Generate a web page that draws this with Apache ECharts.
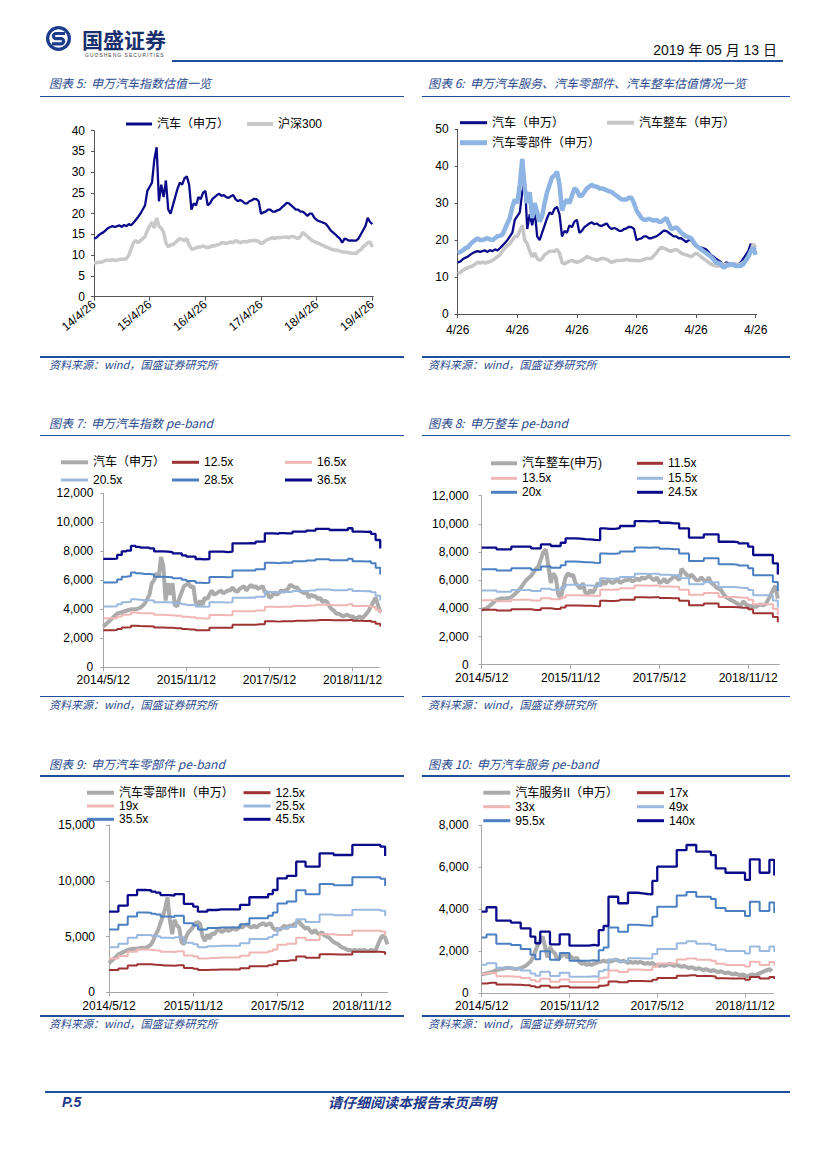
<!DOCTYPE html>
<html><head><meta charset="utf-8">
<script src="https://cdn.jsdelivr.net/npm/echarts@6/dist/echarts.min.js"></script>
<style>
body{margin:0;background:#fff;}
#page{position:relative;width:827px;height:1170px;overflow:hidden;background:#fff;font-family:"Liberation Sans","Noto Sans CJK SC",sans-serif;}
.ch{position:absolute;left:0;top:0;width:827px;height:1170px;pointer-events:none;}
.t{position:absolute;white-space:nowrap;z-index:5;}
.hl{position:absolute;background:#1f4e9e;z-index:5;}
.ttl{position:absolute;white-space:nowrap;font-style:italic;font-size:12px;line-height:14px;color:#2a4a8f;z-index:5;font-family:"Noto Sans CJK SC","Liberation Sans",sans-serif;}
.src{position:absolute;white-space:nowrap;font-style:italic;font-size:11px;line-height:14px;color:#2a4a8f;z-index:5;font-family:"Noto Sans CJK SC","Liberation Sans",sans-serif;}
</style></head>
<body><div id="page">
<div id="c5" class="ch"></div><div id="c6" class="ch"></div>
<div id="c7" class="ch"></div><div id="c8" class="ch"></div>
<div id="c9" class="ch"></div><div id="c10" class="ch"></div>

<svg class="t" style="left:44px;top:24px" width="30" height="30" viewBox="44 24 30 30">
<circle cx="58.5" cy="38.5" r="12.5" fill="#1d3c8c"/>
<circle cx="58.5" cy="38.5" r="9.2" fill="#fff"/>
<path d="M65,33.5 H56 a2.6,2.6 0 0 0 0,5.2 H61 a2.6,2.6 0 0 1 0,5.2 H52" stroke="#1d3c8c" stroke-width="3.2" fill="none"/>
</svg>
<div class="t" style="left:82px;top:27px;font-size:21px;font-weight:bold;color:#1a2f6e;line-height:24px;font-family:'Noto Sans CJK SC',sans-serif;">国盛证券</div>
<div class="t" style="left:85px;top:53px;font-size:5px;letter-spacing:1px;color:#444;line-height:5px;">GUOSHENG SECURITIES</div>
<div class="hl" style="left:172px;top:59.5px;width:611px;height:2px;"></div>
<div class="t" style="right:50px;top:41px;font-size:14px;line-height:18px;color:#111;font-family:'Liberation Sans','Noto Sans CJK SC',sans-serif;">2019 年 05 月 13 日</div>

<div class="ttl" style="left:49px;top:76px;">图表 5:&nbsp; 申万汽车指数估值一览</div>
<div class="ttl" style="left:428px;top:76px;">图表 6:&nbsp; 申万汽车服务、汽车零部件、汽车整车估值情况一览</div>
<div class="hl" style="left:40px;top:95.5px;width:364px;height:1.5px;"></div>
<div class="hl" style="left:422px;top:95.5px;width:368px;height:1.5px;"></div>
<div class="hl" style="left:40px;top:356px;width:364px;height:1.5px;"></div>
<div class="hl" style="left:422px;top:356px;width:368px;height:1.5px;"></div>
<div class="src" style="left:49px;top:356.5px;">资料来源：wind，国盛证券研究所</div>
<div class="src" style="left:428px;top:356.5px;">资料来源：wind，国盛证券研究所</div>

<div class="ttl" style="left:49px;top:416px;">图表 7:&nbsp; 申万汽车指数 pe-band</div>
<div class="ttl" style="left:428px;top:416px;">图表 8:&nbsp; 申万整车 pe-band</div>
<div class="hl" style="left:40px;top:434.5px;width:364px;height:1.5px;"></div>
<div class="hl" style="left:422px;top:434.5px;width:368px;height:1.5px;"></div>
<div class="hl" style="left:40px;top:695.5px;width:364px;height:1.5px;"></div>
<div class="hl" style="left:422px;top:695.5px;width:368px;height:1.5px;"></div>
<div class="src" style="left:49px;top:696.5px;">资料来源：wind，国盛证券研究所</div>
<div class="src" style="left:428px;top:696.5px;">资料来源：wind，国盛证券研究所</div>

<div class="ttl" style="left:49px;top:757px;">图表 9:&nbsp; 申万汽车零部件 pe-band</div>
<div class="ttl" style="left:428px;top:757px;">图表 10:&nbsp; 申万汽车服务 pe-band</div>
<div class="hl" style="left:40px;top:775px;width:364px;height:1.5px;"></div>
<div class="hl" style="left:422px;top:775px;width:368px;height:1.5px;"></div>
<div class="hl" style="left:40px;top:1015px;width:364px;height:1.5px;"></div>
<div class="hl" style="left:422px;top:1015px;width:368px;height:1.5px;"></div>
<div class="src" style="left:49px;top:1016px;">资料来源：wind，国盛证券研究所</div>
<div class="src" style="left:428px;top:1016px;">资料来源：wind，国盛证券研究所</div>

<div class="hl" style="left:45px;top:1090.5px;width:745px;height:2.5px;"></div>
<div class="t" style="left:62px;top:1094px;font-size:14px;line-height:16px;font-weight:bold;font-style:italic;color:#1f3a8a;">P.5</div>
<div class="t" style="left:328px;top:1094px;font-size:14px;line-height:16px;font-weight:bold;font-style:italic;color:#1f3a8a;font-family:'Noto Sans CJK SC',sans-serif;">请仔细阅读本报告末页声明</div>
</div>
<script>
// ---------- tick labels ----------
const idxTickMonths = [0, 12, 24, 36, 48, 60];
const idxTickLabels5 = ['14/4/26', '15/4/26', '16/4/26', '17/4/26', '18/4/26', '19/4/26'];
const idxTickLabels6 = ['4/26', '4/26', '4/26', '4/26', '4/26', '4/26'];
const peTickMonths = [0, 18, 36, 54];
const peTickLabels = ['2014/5/12', '2015/11/12', '2017/5/12', '2018/11/12'];

// ---------- chart 5 / 6 (semi-monthly PE) ----------
const autoSW = [14,14.2,14.8,15.2,15.5,16,16.5,16.8,17,16.8, 17,17.2,16.8,17.3,17,17.5,17.2,17.8,18.5,19.2, 20,21,22,25.5,26.5,27.5,33,36,23,27, 24,28,21,20,22,24,26,27.5,27,28.5, 29,27,21,22.5,22,24,23.5,25,25.5,22, 22.5,23.5,24,24.5,24.8,24.3,24.5,24,23.8,24.2, 24.5,23.5,23,23.3,23,22.5,22.5,23,23.2,23.6, 23.5,23,20,20.3,20.5,21,21,20.5,20.5,20.8, 21,21.5,22,22.6,22.5,22,21.5,21,21,20.5, 20.5,20,19.5,20,20,19,18.5,18.2,18,17.8, 17.5,16.8,16,15.5,15,14.5,14,13,14,13.8, 13.5,13.6,13.5,13.5,14,15,16,17,19,18, 17.5];
const hs300 = [8.2,8.2,8.3,8.3,8.5,8.8,8.8,8.8,8.9,8.8, 8.8,9,9,9,9.2,10,11.5,13,13.5,13, 13.5,14,14.5,16,17,18,16.5,19,17,16.5, 15.5,13,12,12.5,12.5,13,13.5,14,13.8,13.5, 14,12.5,11.5,11.5,11.8,12,12,12.2,12,11.8, 12,12.3,12.2,12.5,12.6,13,13,12.8,13,13.2, 13,13.5,13.3,13,13.2,13.3,13.2,13.5,13.5,13.6, 13.5,13.3,12.8,13,13.5,13.8,14,14.2,14,14.3, 14.2,14.3,14.3,14.4,14.2,14.5,14.5,14.2,14,14.5, 15.5,15,14.5,14,13.5,13.3,13,12.8,12.5,12.3, 12,11.8,11.5,11.3,11.2,11.2,11,10.8,10.8,10.7, 10.6,10.5,10.5,10.4,11,11.3,12,12.5,13,13.2, 12];
const autoOEM = [11,11.2,11.8,12.2,12.5,12.8,13,13.5,14,13.8, 14,13.8,14,14.2,14.5,15,15.5,16,17,17.8, 18.5,19,20,21,21,22.5,24,20,19,17, 15.5,16.5,15,14.5,15,16,16.5,17,17,17, 17.5,16.5,14,13.5,14,14.3,14.5,14.2,14,14.2, 14.5,15,15.5,15.3,15,14.8,14.5,14.8,15,15, 14.8,14.3,14,14.2,14.5,14.5,14.5,14.6,14.8,14.6, 14.5,14.5,14.5,14.4,14.5,14.8,15,15,15,15.8, 16.5,17.5,18,17.8,17.5,17.2,17,17.3,17.5,17, 16.5,16.2,16,15.8,15.5,16,16.5,16,15.5,15, 14.5,14,13.5,13.2,13,13,13,13.2,13.5,13.5, 13.5,13.4,13.5,13.5,13.5,14,14.5,15.5,17,19, 18];
const autoParts = [16.5,16.8,17.2,17.8,18,18.8,19.5,20,20.5,20, 20,20.3,20.5,20.2,20,20.5,21,21.2,21.5,23, 24.5,26,29,31,30,35,42,34,30,33, 26,30,27.5,25,26.5,30,33,35,37,37.5, 38.5,35,28,30,31,30,32,34,33.5,32, 32,33,34,34.5,35,34.5,34.5,34,34,33.8, 33.5,33.2,33,32.5,32,31.5,31,31,31,31.5, 31.5,30,28,27,26,25.5,25.5,25.8,25.5,25.3, 25.5,25,25,25.5,26,24.5,23,23.2,23.5,22.8, 22,21.5,21,20.8,20.5,19.5,18.5,18,17.5,17, 16.5,16,15.5,14.8,14,13.8,13.5,12.5,13,13.2, 13.5,13.3,13,13,13,13.5,14.5,15.5,17,18, 16];

// ---------- chart 7 ----------
const c7Index = [2800,2950,3100,3250,3400,3550,3700,3750,3800,3850, 3900,3950,4000,4000,4000,4050,4100,4250,4400,4700, 5000,5800,6000,6500,6200,7600,7000,4600,5800,5000, 5800,4300,4200,4800,5200,5600,5700,5800,5500,5600, 4500,4200,4600,4300,4800,4700,5000,5300,5000,5100, 5200,5300,5100,5200,5300,5300,5500,5300,5200,5400, 5500,5600,5300,5500,5700,5500,5600,5400,5500,5600, 5200,5200,4800,4900,5200,5000,5100,5300,5200,5300, 5400,5700,5600,5500,5500,5300,5200,5100,5200,4800, 5000,4900,4900,4700,4800,4500,4600,4500,4200,4000, 3900,3700,3700,3600,3500,3600,3600,3500,3500,3400, 3400,3500,3400,3500,3700,3900,4200,4500,4800,4300, 3800];
const c7_125 = [2560,2560,2570,2650,2740,2760,2870,2840,2830,2830, 2810,2740,2740,2730,2720,2690,2690,2640,2610,2610, 2560,2550,2560,2730,2730,2730,2720,2730,2930,2930, 2930,2930,2930,2970,2970,3170,3170,3150,3170,3170, 3170,3210,3210,3210,3230,3230,3270,3270,3270,3240, 3240,3240,3240,3280,3210,3210,3200,3210,3150,3010, 2810];
const c7_165 = [3380,3380,3390,3500,3620,3640,3780,3750,3730,3730, 3710,3620,3620,3610,3590,3550,3550,3490,3450,3450, 3380,3370,3380,3610,3610,3610,3590,3610,3870,3870, 3870,3870,3870,3920,3920,4180,4180,4160,4180,4180, 4180,4230,4230,4230,4260,4260,4310,4310,4310,4280, 4280,4280,4280,4340,4230,4230,4220,4230,4160,3970, 3710];
const c7_205 = [4200,4200,4210,4350,4490,4520,4700,4660,4630,4630, 4610,4490,4490,4480,4470,4410,4410,4340,4290,4290, 4200,4180,4200,4480,4480,4480,4470,4480,4800,4800, 4800,4810,4800,4870,4870,5190,5190,5170,5200,5190, 5190,5260,5260,5260,5300,5300,5360,5360,5360,5320, 5320,5320,5320,5390,5260,5260,5250,5260,5170,4930, 4610];
const c7_285 = [5840,5840,5860,6050,6250,6290,6540,6480,6440,6440, 6400,6250,6250,6230,6210,6140,6140,6030,5960,5960, 5830,5820,5830,6230,6230,6230,6210,6230,6680,6680, 6680,6680,6680,6770,6770,7210,7210,7180,7220,7210, 7210,7310,7310,7310,7360,7360,7450,7450,7450,7390, 7390,7390,7390,7490,7310,7310,7290,7310,7180,6860, 6400];
const c7_365 = [7480,7480,7500,7750,8000,8050,8370,8300,8250,8250, 8200,8000,8000,7980,7950,7860,7860,7720,7630,7630, 7470,7450,7470,7980,7980,7980,7950,7980,8550,8550, 8550,8560,8550,8670,8670,9240,9240,9200,9250,9240, 9240,9360,9360,9360,9430,9430,9540,9540,9540,9470, 9470,9470,9470,9590,9360,9360,9340,9360,9200,8780, 8200];

// ---------- chart 8 ----------
const c8Index = [3900,3950,4000,4150,4300,4450,4600,4650,4700,4700, 4700,4750,4800,4950,5100,5300,5500,5750,6000,6150, 6300,6550,6800,7000,7500,8000,8200,7000,5800,6500, 6200,5000,4700,5500,6200,6500,6300,6400,5800,5600, 5400,5800,5100,5000,5300,5100,5400,5800,5600,6000, 5700,6000,5900,5800,5900,6100,5800,5900,6000,6000, 6100,5900,6000,6100,6000,6200,6100,6200,6300,6100, 6000,6200,5800,5900,6100,5800,6000,6100,6300,6200, 6000,6800,6600,6400,6200,6400,6200,6000,6000,6200, 6000,5900,6200,5800,5700,5500,5400,5300,5000,4800, 4700,4600,4500,4400,4300,4200,4500,4300,4200,4100, 4200,4100,4200,4300,4200,4300,4600,4900,5300,5600, 4700];
const c8_115 = [3900,3900,3900,3840,3840,3840,3930,3930,3930,3930, 3880,3880,4010,4010,3960,3960,4070,4210,4210,4200, 4190,4180,4160,4150,4540,4530,4530,4550,4620,4620, 4620,4790,4790,4780,4790,4790,4730,4730,4710,4710, 4540,4540,4230,4230,4230,4340,4340,4340,4100,4100, 4100,4080,4050,4050,3930,3660,3660,3660,3660,3380, 3010];
const c8_135 = [4580,4580,4580,4510,4510,4510,4620,4620,4620,4620, 4550,4550,4710,4710,4650,4650,4770,4940,4940,4930, 4920,4900,4890,4880,5330,5320,5320,5350,5430,5430, 5430,5620,5620,5610,5620,5620,5550,5550,5530,5530, 5330,5330,4970,4970,4970,5100,5100,5100,4810,4810, 4810,4790,4750,4750,4620,4290,4290,4290,4290,3970, 3530];
const c8_155 = [5260,5260,5260,5180,5180,5180,5300,5300,5300,5300, 5230,5230,5400,5400,5330,5330,5480,5680,5680,5660, 5640,5630,5610,5600,6130,6110,6110,6140,6230,6230, 6230,6450,6450,6440,6450,6450,6380,6380,6350,6350, 6130,6130,5710,5710,5710,5850,5850,5850,5520,5520, 5520,5500,5450,5450,5300,4930,4930,4930,4930,4560, 4060];
const c8_20 = [6780,6780,6780,6690,6690,6690,6840,6840,6840,6840, 6740,6740,6970,6970,6880,6880,7070,7320,7320,7310, 7280,7270,7240,7220,7900,7880,7880,7920,8040,8040, 8040,8330,8330,8310,8330,8330,8230,8230,8200,8200, 7900,7900,7360,7360,7360,7550,7550,7550,7130,7130, 7130,7100,7040,7040,6840,6360,6360,6360,6360,5880, 5230];
const c8_245 = [8310,8310,8310,8190,8190,8190,8380,8380,8380,8380, 8260,8260,8540,8540,8430,8430,8660,8970,8970,8950, 8920,8900,8870,8850,9680,9650,9650,9700,9850,9850, 9850,10200,10200,10180,10200,10200,10080,10080,10040,10040, 9680,9680,9020,9020,9020,9250,9250,9250,8730,8730, 8730,8700,8620,8620,8380,7790,7790,7790,7790,7200, 6410];

// ---------- chart 9 ----------
const c9Index = [2600,2800,3000,3200,3400,3500,3600,3700,3800,3850, 3900,3900,3900,3950,4000,4000,4000,4150,4300,4700, 5200,5600,6200,6800,7500,8500,6500,5200,6500,6000, 5800,4500,4300,5000,5400,5600,5900,6200,6300,6100, 5000,4600,5200,4800,5300,5200,5500,5700,5400,5500, 5700,5500,5600,5800,5600,5700,5900,5800,6000,6100, 5900,5800,6000,5800,6000,6100,6200,6000,6100,6200, 5800,5600,5700,5600,5800,6000,5700,6000,5900,6100, 6200,6400,6100,5900,5700,5800,5500,5300,5600,5300, 5200,5400,5100,5000,4900,4700,4500,4400,4300,4100, 4000,3900,3800,3800,3700,3800,3700,3800,3700,3800, 3700,3700,3800,3700,3800,4300,4800,5100,4900,4300];
const c9_125 = [1990,1990,2130,2130,2400,2400,2520,2520,2510,2480, 2450,2400,2400,2380,2420,2420,2180,2180,2110,1990, 1990,2030,2030,2040,2040,2040,2040,2040,2150,2150, 2340,2340,2340,2340,2420,2520,2810,2810,2870,2870, 3220,3220,3090,3090,3090,3420,3420,3420,3380,3380, 3380,3380,3630,3630,3630,3630,3630,3630,3590,3360];
const c9_19 = [3020,3020,3250,3250,3640,3640,3830,3830,3820,3770, 3730,3640,3640,3620,3680,3680,3310,3310,3210,3020, 3020,3080,3080,3110,3110,3110,3110,3110,3270,3270, 3560,3560,3560,3560,3680,3830,4270,4270,4360,4360, 4890,4890,4700,4700,4700,5200,5200,5200,5140,5140, 5140,5140,5520,5520,5520,5520,5520,5520,5450,5100];
const c9_255 = [4050,4050,4350,4350,4890,4890,5140,5140,5130,5060, 5000,4890,4890,4850,4940,4940,4440,4440,4300,4050, 4050,4140,4140,4170,4170,4170,4170,4170,4390,4390, 4770,4770,4770,4770,4940,5140,5730,5730,5850,5850, 6560,6560,6310,6310,6310,6980,6980,6980,6900,6900, 6900,6900,7400,7400,7400,7400,7400,7400,7320,6850];
const c9_355 = [5640,5640,6060,6060,6800,6800,7150,7150,7140,7040, 6970,6800,6800,6760,6870,6870,6180,6180,5990,5640, 5640,5760,5760,5800,5800,5800,5800,5800,6110,6110, 6650,6650,6650,6650,6870,7150,7970,7970,8140,8140, 9140,9140,8790,8790,8790,9720,9720,9720,9600,9600, 9600,9600,10310,10310,10310,10310,10310,10310,10190,9530];
const c9_455 = [7230,7230,7770,7770,8720,8720,9170,9170,9150,9020, 8930,8720,8720,8660,8810,8810,7920,7920,7680,7230, 7230,7380,7380,7440,7440,7440,7440,7440,7830,7830, 8520,8520,8520,8520,8810,9170,10220,10220,10430,10430, 11710,11710,11260,11260,11260,12460,12460,12460,12310,12310, 12310,12310,13210,13210,13210,13210,13210,13210,13060,12220];

// ---------- chart 10 ----------
const c10Index = [900,925,950,975,1000,1050,1100,1125,1150,1175, 1200,1200,1200,1175,1150,1175,1200,1250,1300,1400, 1500,1700,2000,2300,2500,2700,2200,1700,2200,2000, 1900,1600,1700,1800,1900,1700,1800,1700,1600,1700, 1500,1400,1450,1350,1400,1350,1400,1450,1500,1500, 1550,1500,1550,1500,1550,1600,1550,1500,1550,1500, 1450,1500,1450,1500,1450,1500,1450,1400,1450,1400, 1450,1350,1350,1300,1350,1300,1350,1400,1350,1300, 1350,1300,1250,1300,1250,1200,1250,1200,1150,1200, 1150,1100,1150,1100,1050,1100,1050,1000,1050,1000, 950,1000,950,900,950,900,850,900,850,800, 850,900,850,900,950,1000,1050,1100,1150,1050];
const c10_17 = [470,500,500,420,420,420,410,410,380,380, 330,290,360,360,280,280,340,340,280,280, 280,280,280,280,360,390,560,560,520,520, 580,580,580,570,570,650,730,730,730,730, 830,830,860,860,820,820,820,800,720,720, 700,700,700,700,650,770,770,700,700,770, 680];
const c10_33 = [920,960,960,810,810,810,790,790,730,730, 630,560,690,690,550,550,660,660,540,540, 540,540,540,540,710,750,1080,1080,1010,1010, 1130,1130,1120,1110,1110,1260,1420,1420,1420,1420, 1610,1610,1660,1660,1590,1590,1590,1550,1400,1400, 1350,1350,1350,1350,1270,1500,1500,1350,1350,1490, 1320];
const c10_49 = [1360,1430,1430,1210,1210,1210,1180,1180,1080,1080, 940,830,1030,1030,820,820,980,980,790,790, 790,790,810,790,1050,1120,1610,1610,1500,1500, 1670,1670,1660,1650,1650,1870,2110,2110,2110,2110, 2380,2380,2470,2470,2360,2360,2360,2300,2080,2080, 2010,2010,2010,2010,1890,2230,2230,2010,2010,2220, 1960];
const c10_955 = [2650,2790,2790,2350,2350,2350,2290,2290,2110,2110, 1830,1620,2000,2000,1590,1590,1910,1910,1550,1550, 1550,1550,1570,1550,2050,2180,3130,3130,2920,2920, 3260,3260,3240,3220,3210,3640,4110,4110,4110,4110, 4650,4650,4810,4810,4590,4590,4590,4480,4050,4050, 3910,3910,3910,3910,3680,4350,4350,3910,3910,4320, 3820];
const c10_140 = [3880,4090,4090,3450,3450,3450,3360,3360,3090,3090, 2690,2380,2930,2930,2330,2330,2800,2800,2270,2270, 2270,2270,2300,2270,3000,3200,4590,4590,4280,4280, 4780,4780,4750,4720,4700,5340,6020,6020,6020,6020, 6810,6810,7050,7050,6730,6730,6730,6570,5940,5940, 5730,5730,5730,5730,5390,6370,6370,5730,5730,6340, 5600];

// ---------- rendering ----------
const FONT = '"Liberation Sans","Noto Sans CJK SC",sans-serif';
const COL = {navy:'#0b0b8a', mid:'#4a7fc1', light:'#9bb9de', pink:'#efb6b4', red:'#9e3333', gray:'#ababab'};
function pairs(arr, step){ return arr.map((v, i) => [i * step, v]); }
function comma(v){ return String(v).replace(/\B(?=(\d{3})+(?!\d))/g, ','); }

function build(id, cfg){
  const ch = echarts.init(document.getElementById(id), null, {renderer:'svg', width:827, height:1170});
  const series = cfg.series.map(s => ({
    type:'line', name:s.name, data:pairs(s.data, s.step), showSymbol:false, symbol:'none',
    step: s.stair ? 'end' : false, color:s.color, itemStyle:{color:s.color},
    lineStyle:{color:s.color, width:s.width}, emphasis:{disabled:true}, silent:true, clip:true, z:2
  }));
  const legend = cfg.series.map(s => ({
    left:s.lx, top:s.ly - 7, padding:0, itemGap:0, itemWidth:cfg.iconW, itemHeight:s.iconH,
    icon:'rect', data:[s.name], selectedMode:false,
    textStyle:{fontSize:12, color:'#000', fontFamily:FONT, lineHeight:14},
    itemStyle:{borderWidth:0}
  }));
  ch.setOption({
    animation:false,
    backgroundColor:'transparent',
    grid:{left:cfg.grid[0], top:cfg.grid[1], width:cfg.grid[2], height:cfg.grid[3], containLabel:false},
    legend:legend,
    xAxis:{type:'value', min:0, max:cfg.xMax, interval:cfg.xInt,
      axisLine:{show:true, onZero:false, lineStyle:{color:cfg.axisColor, width:1}},
      axisTick:{show:true, length:4, inside:false, customValues:cfg.xTicks, lineStyle:{color:cfg.axisColor}},
      axisLabel:{customValues:cfg.xTicks, rotate:cfg.xRotate || 0, margin:cfg.xMargin, fontSize:12, lineHeight:12, color:'#000', fontFamily:FONT,
        formatter:v => { const i = cfg.xTicks.indexOf(v); return i >= 0 ? cfg.xLabels[i] : ''; }},
      splitLine:{show:false}},
    yAxis:{type:'value', min:0, max:cfg.yMax, interval:cfg.yInt,
      axisLine:{show:true, lineStyle:{color:cfg.axisColor, width:1}},
      axisTick:{show:true, length:3, inside:false, lineStyle:{color:cfg.axisColor}},
      axisLabel:{margin:cfg.yMargin, fontSize:12, lineHeight:12, color:'#000', fontFamily:FONT,
        formatter:v => cfg.comma ? comma(v) : String(v)},
      splitLine:{show:false}},
    series:series
  });
}

build('c5', {grid:[94,130.7,279.3,166], xMax:60.2, xInt:12, xTicks:idxTickMonths, xLabels:idxTickLabels5, xRotate:40, xMargin:6,
  yMax:40, yInt:5, yMargin:9, comma:false, axisColor:'#555', iconW:26,
  series:[
    {name:'汽车（申万）', data:autoSW, step:0.5, color:COL.navy, width:2.3, lx:126, ly:124, iconH:3},
    {name:'沪深300', data:hs300, step:0.5, color:'#c9c9c9', width:3.5, lx:247, ly:124, iconH:4}
  ]});

build('c6', {grid:[457.7,129.3,299,184.7], xMax:60.2, xInt:12, xTicks:idxTickMonths, xLabels:idxTickLabels6, xMargin:10,
  yMax:50, yInt:10, yMargin:9, comma:false, axisColor:'#555', iconW:27,
  series:[
    {name:'汽车（申万）', data:autoSW, step:0.5, color:COL.navy, width:2.3, lx:460, ly:122.7, iconH:3},
    {name:'汽车整车（申万）', data:autoOEM, step:0.5, color:'#c6c6c6', width:3.5, lx:607, ly:122.7, iconH:4},
    {name:'汽车零部件（申万）', data:autoParts, step:0.5, color:'#8eb4e3', width:4.5, lx:460, ly:142.7, iconH:5}
  ]});

build('c7', {grid:[103.3,493.3,276,174], xMax:59.8, xInt:18, xTicks:peTickMonths, xLabels:peTickLabels, xMargin:7,
  yMax:12000, yInt:2000, yMargin:10, comma:true, axisColor:'#a6a6a6', iconW:27,
  series:[
    {name:'汽车（申万）', data:c7Index, step:0.5, color:COL.gray, width:4, lx:61, ly:462.3, iconH:4},
    {name:'12.5x', data:c7_125, step:1, stair:true, color:COL.red, width:2, lx:172, ly:462.3, iconH:3},
    {name:'16.5x', data:c7_165, step:1, stair:true, color:COL.pink, width:2, lx:285, ly:462.3, iconH:3},
    {name:'20.5x', data:c7_205, step:1, stair:true, color:COL.light, width:2, lx:61, ly:480, iconH:3},
    {name:'28.5x', data:c7_285, step:1, stair:true, color:COL.mid, width:2, lx:172, ly:480, iconH:3},
    {name:'36.5x', data:c7_365, step:1, stair:true, color:COL.navy, width:2.3, lx:285, ly:480, iconH:3}
  ]});

build('c8', {grid:[481.7,495.7,297.6,169], xMax:60.3, xInt:18, xTicks:peTickMonths, xLabels:peTickLabels, xMargin:7,
  yMax:12000, yInt:2000, yMargin:13, comma:true, axisColor:'#a6a6a6', iconW:26,
  series:[
    {name:'汽车整车(申万)', data:c8Index, step:0.5, color:COL.gray, width:4, lx:491, ly:463.3, iconH:4},
    {name:'11.5x', data:c8_115, step:1, stair:true, color:COL.red, width:2, lx:637, ly:463.3, iconH:3},
    {name:'13.5x', data:c8_135, step:1, stair:true, color:COL.pink, width:2, lx:491, ly:478.3, iconH:3},
    {name:'15.5x', data:c8_155, step:1, stair:true, color:COL.light, width:2, lx:637, ly:478.3, iconH:3},
    {name:'20x', data:c8_20, step:1, stair:true, color:COL.mid, width:2, lx:491, ly:492.3, iconH:3},
    {name:'24.5x', data:c8_245, step:1, stair:true, color:COL.navy, width:2.3, lx:637, ly:492.3, iconH:3}
  ]});

build('c9', {grid:[109,825,278.7,167.3], xMax:59.55, xInt:18, xTicks:peTickMonths, xLabels:peTickLabels, xMargin:8,
  yMax:15000, yInt:5000, yMargin:14, comma:true, axisColor:'#a6a6a6', iconW:27,
  series:[
    {name:'汽车零部件II（申万）', data:c9Index, step:0.5, color:COL.gray, width:4, lx:87, ly:792.7, iconH:4},
    {name:'12.5x', data:c9_125, step:1, stair:true, color:COL.red, width:2, lx:243.5, ly:792.7, iconH:3},
    {name:'19x', data:c9_19, step:1, stair:true, color:COL.pink, width:2, lx:87, ly:806, iconH:3},
    {name:'25.5x', data:c9_255, step:1, stair:true, color:COL.light, width:2, lx:243.5, ly:806, iconH:3},
    {name:'35.5x', data:c9_355, step:1, stair:true, color:COL.mid, width:2, lx:87, ly:819.3, iconH:3},
    {name:'45.5x', data:c9_455, step:1, stair:true, color:COL.navy, width:2.3, lx:243.5, ly:819.3, iconH:3}
  ]});

build('c10', {grid:[481.7,825,291.6,168.3], xMax:59.8, xInt:18, xTicks:peTickMonths, xLabels:peTickLabels, xMargin:7,
  yMax:8000, yInt:2000, yMargin:13, comma:true, axisColor:'#a6a6a6', iconW:27,
  series:[
    {name:'汽车服务II（申万）', data:c10Index, step:0.5, color:COL.gray, width:4, lx:483.3, ly:792.7, iconH:4},
    {name:'17x', data:c10_17, step:1, stair:true, color:COL.red, width:2, lx:637, ly:792.7, iconH:3},
    {name:'33x', data:c10_33, step:1, stair:true, color:COL.pink, width:2, lx:483.3, ly:806.7, iconH:3},
    {name:'49x', data:c10_49, step:1, stair:true, color:COL.light, width:2, lx:637, ly:806.7, iconH:3},
    {name:'95.5x', data:c10_955, step:1, stair:true, color:COL.mid, width:2, lx:483.3, ly:820.7, iconH:3},
    {name:'140x', data:c10_140, step:1, stair:true, color:COL.navy, width:2.3, lx:637, ly:820.7, iconH:3}
  ]});
</script>
</body></html>
